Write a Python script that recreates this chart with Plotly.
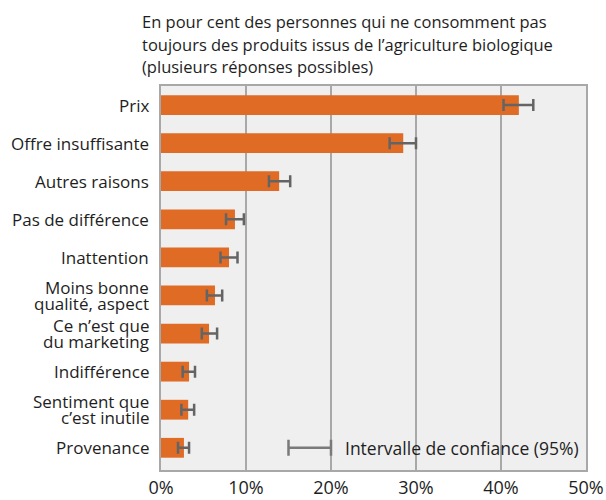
import plotly.graph_objects as go

categories = ["Prix", "Offre insuffisante", "Autres raisons", "Pas de différence", "Inattention",
              "Moins bonne<br>qualité, aspect", "Ce n’est que<br>du marketing", "Indifférence",
              "Sentiment que<br>c’est inutile", "Provenance"]
values = [42.1, 28.5, 13.9, 8.7, 8.0, 6.35, 5.65, 3.3, 3.2, 2.7]
ci_low = [40.3, 26.9, 12.7, 7.65, 7.0, 5.4, 4.8, 2.55, 2.4, 2.0]
ci_high = [43.8, 30.0, 15.2, 9.75, 9.0, 7.2, 6.6, 4.0, 3.9, 3.3]
tick_vals = [0, 10, 20, 30, 40, 50]
tick_text = ["0%", "10%", "20%", "30%", "40%", "50%"]
title_lines = ["En pour cent des personnes qui ne consomment pas",
               "toujours des produits issus de l’agriculture biologique",
               "(plusieurs réponses possibles)"]
legend_text = "Intervalle de confiance (95%)"
legend_ci = [15, 20]

FONT = "Open Sans, Noto Sans, sans-serif"
ORANGE = "#E06B24"
GREY = "#646464"
TXT = "#1E1E1E"

W, H = 606, 500
ML, MR, MT, MB = 161, 20, 86, 30

err_plus = [h - v for h, v in zip(ci_high, values)]
err_minus = [v - l for l, v in zip(ci_low, values)]

fig = go.Figure()
fig.add_trace(go.Bar(
    y=categories, x=values, orientation="h",
    marker=dict(color=ORANGE, line=dict(width=0)),
    width=0.52,
    error_x=dict(type="data", symmetric=False, array=err_plus, arrayminus=err_minus,
                 color=GREY, thickness=2.5, width=6),
    showlegend=False, hoverinfo="skip",
))

# legend-like confidence interval sample
ly = categories[-1]
fig.add_trace(go.Scatter(
    x=[sum(legend_ci) / 2], y=[ly], mode="markers",
    marker=dict(size=0.1, color="rgba(0,0,0,0)"),
    error_x=dict(type="constant", value=(legend_ci[1] - legend_ci[0]) / 2,
                 color="#7A7A7A", thickness=2.5, width=8),
    showlegend=False, hoverinfo="skip",
))
fig.add_annotation(x=legend_ci[1], y=ly, xref="x", yref="y", text=legend_text,
                   showarrow=False, xanchor="left", xshift=12,
                   font=dict(family=FONT, size=17.5, color=TXT))

# category labels (one annotation per line for the tight line spacing of the original)
LINE = 16.5
for cat in categories:
    lines = cat.split("<br>")
    n = len(lines)
    for i, ln in enumerate(lines):
        fig.add_annotation(x=0, y=cat, xref="paper", yref="y", text=ln,
                           showarrow=False, xanchor="right", yanchor="middle",
                           xshift=-10, yshift=((n - 1) / 2 - i) * LINE,
                           font=dict(family=FONT, size=17, color=TXT))

# title lines
pw = W - ML - MR
ph = H - MT - MB
for i, ln in enumerate(title_lines):
    fig.add_annotation(x=(140 - ML) / pw, y=1 + (MT - (22 + 22.5 * i)) / ph,
                       xref="paper", yref="paper", text=ln, showarrow=False,
                       xanchor="left", yanchor="middle",
                       font=dict(family=FONT, size=16.5, color=TXT))

fig.update_layout(
    width=W, height=H,
    margin=dict(l=ML, r=MR, t=MT, b=MB),
    paper_bgcolor="white", plot_bgcolor="#EFEFEF",
    font=dict(family=FONT, size=15, color=TXT),
    xaxis=dict(range=[0, 50], tickvals=tick_vals, ticktext=tick_text,
               showgrid=True, gridcolor="#A8A8A8", gridwidth=2,
               showline=True, linecolor="#A8A8A8", linewidth=2, mirror=True,
               zeroline=False, ticks="", tickfont=dict(size=18, family=FONT, color=TXT),
               automargin=False, fixedrange=True),
    yaxis=dict(autorange="reversed", showgrid=False, showline=True, linecolor="#A8A8A8",
               linewidth=2, mirror=True, ticks="", showticklabels=False,
               automargin=False, fixedrange=True),
)

fig.write_html("out.html", config={"displayModeBar": False, "staticPlot": True},
               post_script="document.body.style.margin='0';document.documentElement.style.overflow='hidden';")
